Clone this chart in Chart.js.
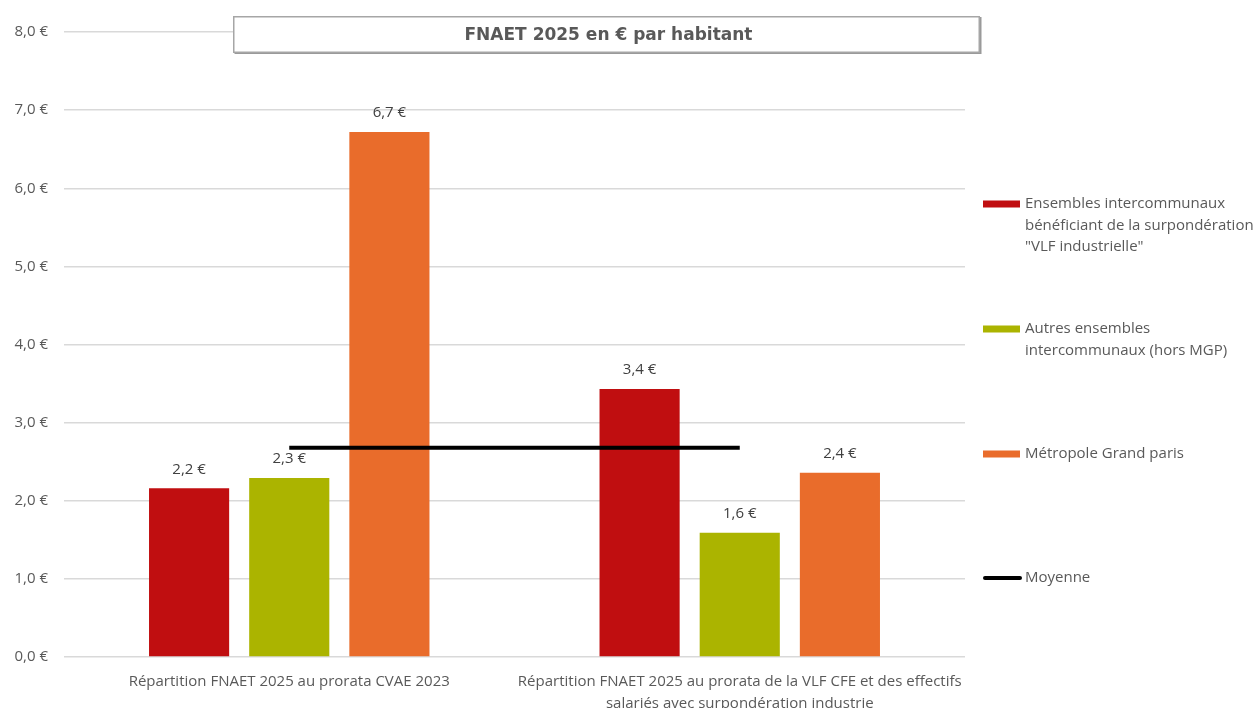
<!DOCTYPE html>
<html lang="fr">
<head>
<meta charset="utf-8">
<title>FNAET 2025 en € par habitant</title>
<script src="https://cdn.jsdelivr.net/npm/chart.js@4.4.1/dist/chart.umd.min.js"></script>
<style>
  html, body { margin: 0; padding: 0; background: #ffffff; }
  #wrap { width: 1255px; height: 708px; position: relative; }
</style>
</head>
<body>
<div id="wrap"><canvas id="chart" width="1255" height="708"></canvas></div>
<script>
// Categories (two allocation methods)
const categories = [
  ['Répartition FNAET 2025 au prorata CVAE 2023'],
  ['Répartition FNAET 2025 au prorata de la VLF CFE et des effectifs', 'salariés avec surpondération industrie']
];

// Series names, in legend order
const seriesNames = [
  'Ensembles intercommunaux\nbénéficiant de la surpondération\n"VLF industrielle"',
  'Autres ensembles\nintercommunaux (hors MGP)',
  'Métropole Grand paris',
  'Moyenne'
];

// Series values, € per inhabitant
const vlfIndustrielle = [2.16, 3.43];
const autresEnsembles = [2.29, 1.59];
const metropoleGP     = [6.72, 2.36];
const moyenne         = [2.68, 2.68];

// Y axis ticks
const yTicks = [0, 1, 2, 3, 4, 5, 6, 7, 8];

const chartTitle = 'FNAET 2025 en € par habitant';

const fmtEuro = v => v.toFixed(1).replace('.', ',') + ' €';

const TEXT = '#595959';
const FONT = "'Open Sans', 'DejaVu Sans', sans-serif";

// Value labels above each bar
const barLabels = {
  id: 'barLabels',
  afterDatasetsDraw(chart) {
    const ctx = chart.ctx;
    ctx.save();
    ctx.font = '15px ' + FONT;
    ctx.fillStyle = '#404040';
    ctx.textAlign = 'center';
    ctx.textBaseline = 'middle';
    chart.data.datasets.forEach((ds, i) => {
      if (ds.type === 'line') return;
      chart.getDatasetMeta(i).data.forEach((bar, j) => {
        ctx.fillText(fmtEuro(ds.data[j]), bar.x, bar.y - 19);
      });
    });
    ctx.restore();
  }
};

// Boxed title overlapping the top of the plot
const boxedTitle = {
  id: 'boxedTitle',
  afterDraw(chart) {
    const ctx = chart.ctx;
    const x0 = 233, y0 = 16, w = 747, h = 37;
    ctx.save();
    ctx.fillStyle = '#9a9a9a';
    ctx.fillRect(x0 + 1.5, y0 + 1, w, h);
    ctx.fillStyle = '#ffffff';
    ctx.fillRect(x0, y0, w, h);
    ctx.strokeStyle = '#a6a6a6';
    ctx.lineWidth = 1.5;
    ctx.strokeRect(x0 + 0.75, y0 + 0.75, w - 1.5, h - 1.5);
    ctx.font = "bold 17px 'DejaVu Sans', sans-serif";
    ctx.fillStyle = TEXT;
    ctx.textAlign = 'center';
    ctx.textBaseline = 'middle';
    ctx.fillText(chartTitle, x0 + w / 2 + 2, y0 + h / 2 + 1);
    ctx.restore();
  }
};

// Right-hand legend with multi-line entries
const sideLegend = {
  id: 'sideLegend',
  afterDraw(chart) {
    const ctx = chart.ctx;
    const rows = [204, 329, 454, 578];
    ctx.save();
    ctx.font = '15px ' + FONT;
    ctx.textAlign = 'left';
    ctx.textBaseline = 'middle';
    chart.data.datasets.forEach((ds, i) => {
      const y = rows[i];
      if (ds.type === 'line') {
        ctx.strokeStyle = ds.borderColor;
        ctx.lineWidth = 4;
        ctx.lineCap = 'round';
        ctx.beginPath();
        ctx.moveTo(985, y);
        ctx.lineTo(1020, y);
        ctx.stroke();
      } else {
        ctx.fillStyle = ds.backgroundColor;
        ctx.fillRect(983, y - 3.5, 37, 7);
      }
      ctx.fillStyle = TEXT;
      ds.label.split('\n').forEach((line, k) => {
        ctx.fillText(line, 1025, y + k * 21.5);
      });
    });
    ctx.restore();
  }
};

new Chart(document.getElementById('chart'), {
  type: 'bar',
  data: {
    labels: categories,
    datasets: [
      { label: seriesNames[0], data: vlfIndustrielle, backgroundColor: '#c00e10', order: 1 },
      { label: seriesNames[1], data: autresEnsembles, backgroundColor: '#abb400', order: 1 },
      { label: seriesNames[2], data: metropoleGP, backgroundColor: '#e96c2b', order: 1 },
      { type: 'line', label: seriesNames[3], data: moyenne, borderColor: '#000000', backgroundColor: '#000000',
        borderWidth: 4, pointRadius: 0, order: 0 }
    ]
  },
  options: {
    responsive: false,
    animation: false,
    devicePixelRatio: 1,
    categoryPercentage: 0.667,
    barPercentage: 0.8,
    layout: { padding: { top: 32, right: 290, left: 0, bottom: 0 } },
    plugins: {
      legend: { display: false },
      title: { display: false },
      tooltip: { enabled: false }
    },
    scales: {
      x: {
        grid: { display: false },
        border: { display: false },
        ticks: { color: TEXT, font: { family: FONT, size: 15, lineHeight: 1.47 }, padding: 6, maxRotation: 0, autoSkip: false },
        afterFit(scale) { scale.height = 51; }
      },
      y: {
        min: 0, max: 8,
        afterBuildTicks(scale) { scale.ticks = yTicks.map(v => ({ value: v })); },
        grid: { color: '#d9d9d9', lineWidth: 1.5, drawTicks: false },
        border: { display: false },
        ticks: { color: TEXT, font: { family: FONT, size: 15 }, padding: 16, callback: v => fmtEuro(v) },
        afterFit(scale) { scale.width = 64; }
      }
    }
  },
  plugins: [barLabels, boxedTitle, sideLegend]
});
</script>
</body>
</html>
